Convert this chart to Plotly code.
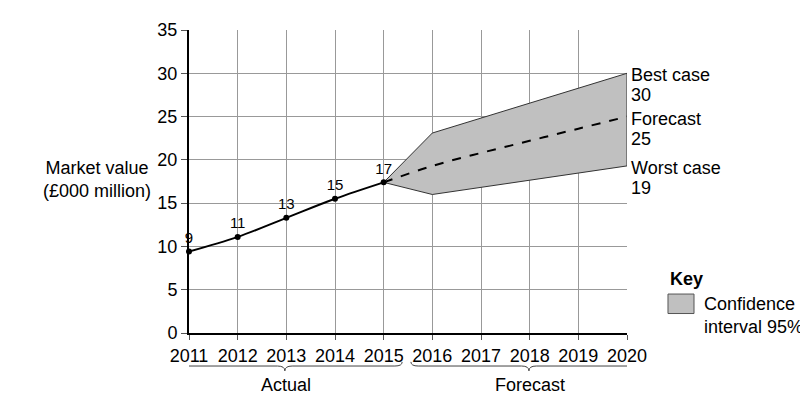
import plotly.graph_objects as go

# actual values (£000 million)
actual_years = [2011, 2012, 2013, 2014, 2015]
actual_values = [9.4, 11.1, 13.3, 15.5, 17.4]
actual_labels = ["9", "11", "13", "15", "17"]

# forecast and 95% confidence band
forecast_years = [2015, 2016, 2017, 2018, 2019, 2020]
forecast_values = [17.4, 19.3, 20.8, 22.2, 23.6, 25.0]
band_years = [2015, 2016, 2020]
band_upper = [17.4, 23.1, 30.0]
band_lower = [17.4, 16.0, 19.3]

end_names = ["Best case", "Forecast", "Worst case"]
end_numbers = ["30", "25", "19"]

FONT = "Liberation Sans, Arial, sans-serif"
FS = 18

fig = go.Figure()

# confidence band polygon
fig.add_trace(go.Scatter(
    x=band_years + band_years[::-1],
    y=band_upper + band_lower[::-1],
    fill="toself", fillcolor="#c0c0c0",
    line=dict(color="#333333", width=1),
    mode="lines", hoverinfo="skip", showlegend=False))

fig.add_trace(go.Scatter(
    x=forecast_years, y=forecast_values, mode="lines",
    line=dict(color="black", width=2, dash="dash", shape="spline"),
    showlegend=False))

fig.add_trace(go.Scatter(
    x=actual_years, y=actual_values, mode="lines+markers+text",
    line=dict(color="black", width=2, shape="spline"),
    marker=dict(color="black", size=6),
    text=actual_labels, textposition="top center",
    textfont=dict(size=15, color="black"), cliponaxis=False,
    showlegend=False))

annotations = []
end_values = [band_upper[-1], forecast_values[-1], band_lower[-1]]
for name, num, val in zip(end_names, end_numbers, end_values):
    annotations.append(dict(x=2020, y=val, xref="x", yref="y", text=name,
                            showarrow=False, xanchor="left", yanchor="middle",
                            xshift=2, yshift=-2, font=dict(size=FS)))
    annotations.append(dict(x=2020, y=val, xref="x", yref="y", text=num,
                            showarrow=False, xanchor="left", yanchor="middle",
                            xshift=2, yshift=-22, font=dict(size=FS)))

annotations += [
    dict(x=-0.21, y=0.505, xref="paper", yref="paper",
         text="Market value<br>(£000 million)", showarrow=False,
         xanchor="center", yanchor="middle", align="center", font=dict(size=FS)),
    dict(x=2013, y=-0.173, xref="x", yref="paper", text="Actual",
         showarrow=False, xanchor="center", yanchor="middle", font=dict(size=FS)),
    dict(x=2018, y=-0.173, xref="x", yref="paper", text="Forecast",
         showarrow=False, xanchor="center", yanchor="middle", font=dict(size=FS)),
    dict(x=1.0936, y=0.177, xref="paper", yref="paper", text="<b>Key</b>",
         showarrow=False, xanchor="left", yanchor="middle", font=dict(size=FS)),
    dict(x=1.1705, y=0.058, xref="paper", yref="paper",
         text="Confidence<br>interval 95%", showarrow=False,
         xanchor="left", yanchor="middle", align="left", font=dict(size=FS)),
]


def brace(x0, x1, yt=-0.0955, ym=-0.109, yb=-0.125, r=0.15):
    xm = (x0 + x1) / 2
    return (f"M {x0},{yt} Q {x0},{ym} {x0 + r},{ym} L {xm - r},{ym} "
            f"Q {xm},{ym} {xm},{yb} Q {xm},{ym} {xm + r},{ym} "
            f"L {x1 - r},{ym} Q {x1},{ym} {x1},{yt}")


shapes = [
    dict(type="path", xref="x", yref="paper", path=brace(2010.56, 2015.38),
         line=dict(color="#444444", width=1)),
    dict(type="path", xref="x", yref="paper", path=brace(2015.56, 2020.41),
         line=dict(color="#444444", width=1)),
    dict(type="rect", xref="paper", yref="paper", x0=1.0936, x1=1.153,
         y0=0.0643, y1=0.1286, fillcolor="#c0c0c0",
         line=dict(color="#555555", width=1)),
]

# page body has an 8px margin, so the figure is drawn 8px in from the corner
fig.update_layout(
    width=800, height=392,
    margin=dict(l=181, r=181, t=14, b=67),
    paper_bgcolor="white", plot_bgcolor="white",
    font=dict(family=FONT, size=FS, color="black"),
    annotations=annotations, shapes=shapes,
)
fig.update_xaxes(range=[2011, 2020], tickvals=list(range(2011, 2021)),
                 showgrid=True, gridcolor="#999999", gridwidth=1,
                 showline=True, linecolor="black", linewidth=2,
                 ticks="outside", ticklen=5, tickcolor="#555555",
                 zeroline=False, tickfont=dict(size=FS))
fig.update_yaxes(range=[0, 35], tickvals=list(range(0, 36, 5)),
                 showgrid=True, gridcolor="#999999", gridwidth=1,
                 showline=True, linecolor="black", linewidth=2,
                 ticks="outside", ticklen=6, tickcolor="#555555",
                 zeroline=False, tickfont=dict(size=FS))

fig.write_html("out.html")
